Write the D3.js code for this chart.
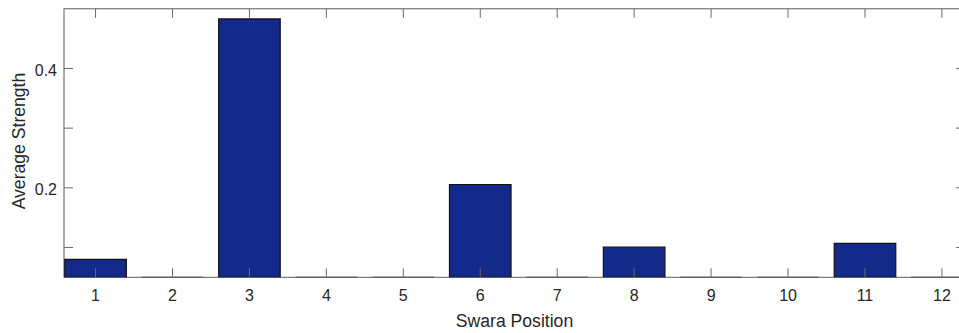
<!DOCTYPE html>
<html>
<head>
<meta charset="utf-8">
<script src="https://cdn.jsdelivr.net/npm/d3@7"></script>
<style>
  body { margin: 0; background: #fff; }
  svg { display: block; font-family: "Liberation Sans", Arial, sans-serif; }
</style>
</head>
<body>
<div id="chart"></div>
<script>
// Swara positions and average strength values
const positions = [1, 2, 3, 4, 5, 6, 7, 8, 9, 10, 11, 12];
const strengths = [0.080, 0, 0.483, 0, 0, 0.2055, 0, 0.1005, 0, 0, 0.107, 0];
const yTicks = [0.1, 0.2, 0.3, 0.4];
const yTickLabels = ["", "0.2", "", "0.4"];

const width = 959, height = 333;
const plot = { left: 64, right: 965, top: 8.8, bottom: 277.3 };

const svg = d3.select("#chart")
    .append("svg")
    .attr("width", width)
    .attr("height", height);

const x = d3.scaleLinear().domain([0.59, 12.3]).range([plot.left, plot.right]);
const y = d3.scaleLinear().domain([0.05, 0.5]).range([plot.bottom, plot.top]);

const axisColor = "#262626";
const tickLen = 9;
const barWidth = 0.8;

// clip bars to the axes box
svg.append("clipPath").attr("id", "plot-clip")
    .append("rect")
    .attr("x", plot.left).attr("y", plot.top)
    .attr("width", plot.right - plot.left).attr("height", plot.bottom - plot.top);

// box lines
svg.append("rect")
    .attr("x", plot.left).attr("y", plot.top)
    .attr("width", plot.right - plot.left).attr("height", plot.bottom - plot.top)
    .attr("fill", "none")
    .attr("stroke", "#5a5a5a")
    .attr("stroke-width", 1);

// bars (baseline clipped to bottom of axis)
const bars = svg.append("g").attr("clip-path", "url(#plot-clip)");
bars.selectAll("path")
    .data(positions)
    .enter().append("path")
    .attr("d", (d, i) => {
        const x0 = x(d - barWidth / 2), x1 = x(d + barWidth / 2);
        const y0 = y(0.05), y1 = y(Math.max(strengths[i], 0.05));
        return `M${x0},${y0}V${y1}H${x1}V${y0}Z`;
    })
    .attr("fill", "#142a8a")
    .attr("stroke", "#111")
    .attr("stroke-width", 1.2);

// ticks (inward, on all four sides)
const ticks = svg.append("g").attr("stroke", "#6a6a6a").attr("stroke-width", 1);
positions.forEach(p => {
    ticks.append("line").attr("x1", x(p)).attr("x2", x(p)).attr("y1", plot.bottom).attr("y2", plot.bottom - tickLen);
    ticks.append("line").attr("x1", x(p)).attr("x2", x(p)).attr("y1", plot.top).attr("y2", plot.top + tickLen);
});
yTicks.forEach(t => {
    ticks.append("line").attr("x1", plot.left).attr("x2", plot.left + tickLen).attr("y1", y(t)).attr("y2", y(t));
    ticks.append("line").attr("x1", plot.right).attr("x2", plot.right - tickLen).attr("y1", y(t)).attr("y2", y(t));
});

// tick labels
svg.append("g").selectAll("text")
    .data(positions)
    .enter().append("text")
    .attr("x", d => x(d))
    .attr("y", 300.5)
    .attr("text-anchor", "middle")
    .attr("font-size", "16px")
    .attr("fill", axisColor)
    .text(d => d);

svg.append("g").selectAll("text")
    .data(yTicks)
    .enter().append("text")
    .attr("x", 57)
    .attr("y", d => y(d))
    .attr("dy", "0.45em")
    .attr("text-anchor", "end")
    .attr("font-size", "16px")
    .attr("fill", axisColor)
    .text((d, i) => yTickLabels[i]);

// axis titles
svg.append("text")
    .attr("x", (plot.left + plot.right) / 2)
    .attr("y", 326.5)
    .attr("text-anchor", "middle")
    .attr("font-size", "17.6px")
    .attr("fill", axisColor)
    .text("Swara Position");

svg.append("text")
    .attr("transform", `translate(25,${(plot.top + plot.bottom) / 2 - 2}) rotate(-90)`)
    .attr("text-anchor", "middle")
    .attr("font-size", "17.6px")
    .attr("fill", axisColor)
    .text("Average Strength");
</script>
</body>
</html>
